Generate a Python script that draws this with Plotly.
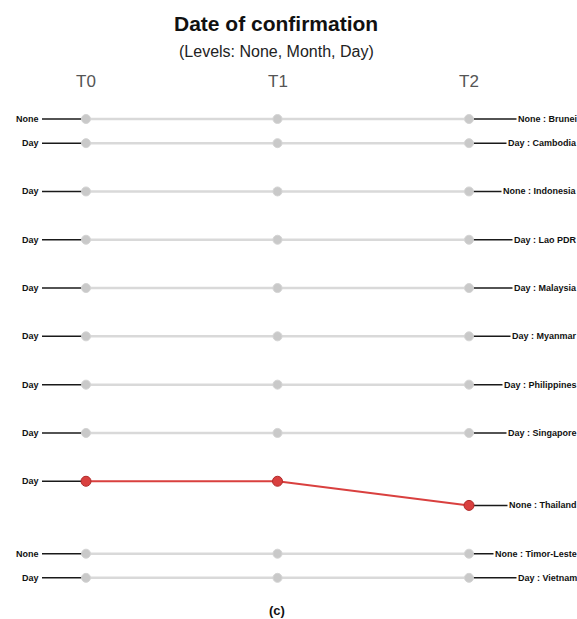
import plotly.graph_objects as go

# ---- data ----
countries = ["Brunei", "Cambodia", "Indonesia", "Lao PDR", "Malaysia", "Myanmar",
             "Philippines", "Singapore", "Thailand", "Timor-Leste", "Vietnam"]
level_t0 = ["None", "Day", "Day", "Day", "Day", "Day", "Day", "Day", "Day", "None", "Day"]
level_t2 = ["None", "Day", "None", "Day", "Day", "Day", "Day", "Day", "None", "None", "Day"]
pos_t0 = [0, 0.5, 1.5, 2.5, 3.5, 4.5, 5.5, 6.5, 7.5, 9.0, 9.5]
pos_t1 = [0, 0.5, 1.5, 2.5, 3.5, 4.5, 5.5, 6.5, 7.5, 9.0, 9.5]
pos_t2 = [0, 0.5, 1.5, 2.5, 3.5, 4.5, 5.5, 6.5, 8.0, 9.0, 9.5]
times = ["T0", "T1", "T2"]
highlight = ["Thailand"]

W, H = 577, 619
# pixel mapping
X0PX, XUNIT = 86, 191.5
Y0PX, YUNIT = 119, 48.3
def xd(px):
    return (px - X0PX) / XUNIT
def yp(px):
    return 1 - px / H

FONT = "Liberation Sans, Arial, sans-serif"
GRAY_LINE = "#d9d9d9"
GRAY_PT = "#c9c9c9"
RED = "#d9403f"

fig = go.Figure()
xs = [0, 1, 2]

# gray lines for non-highlighted
for c, a, b, d in zip(countries, pos_t0, pos_t1, pos_t2):
    if c in highlight:
        continue
    fig.add_trace(go.Scatter(x=xs, y=[a, b, d], mode="lines",
                             line=dict(color=GRAY_LINE, width=2.5),
                             hoverinfo="skip", showlegend=False))

# connectors
for c, a, d in zip(countries, pos_t0, pos_t2):
    fig.add_trace(go.Scatter(x=[xd(42), 0], y=[a, a], mode="lines",
                             line=dict(color="#1a1a1a", width=1.5),
                             hoverinfo="skip", showlegend=False))
    fig.add_trace(go.Scatter(x=[2, xd(576)], y=[d, d], mode="lines",
                             line=dict(color="#1a1a1a", width=1.5),
                             hoverinfo="skip", showlegend=False))

# gray markers
for c, a, b, d in zip(countries, pos_t0, pos_t1, pos_t2):
    if c in highlight:
        continue
    fig.add_trace(go.Scatter(x=xs, y=[a, b, d], mode="markers",
                             marker=dict(color=GRAY_PT, size=9,
                                         line=dict(color="#d4d4d4", width=1)),
                             hoverinfo="skip", showlegend=False))

# highlighted
for c, a, b, d in zip(countries, pos_t0, pos_t1, pos_t2):
    if c not in highlight:
        continue
    fig.add_trace(go.Scatter(x=xs, y=[a, b, d], mode="lines+markers",
                             line=dict(color=RED, width=2),
                             marker=dict(color=RED, size=10,
                                         line=dict(color="#b02a2a", width=1)),
                             hoverinfo="skip", showlegend=False))

annotations = []
for lv, a in zip(level_t0, pos_t0):
    annotations.append(dict(x=xd(40), y=a, xref="x", yref="y", text=lv,
                            showarrow=False, xanchor="right", yanchor="middle",
                            font=dict(family=FONT, size=9, color="#111"),
                            borderpad=0))
for c, lv, d in zip(countries, level_t2, pos_t2):
    annotations.append(dict(x=xd(575), y=d, xref="x", yref="y", xshift=4,
                            text=f"<b>{lv} : {c}</b>", showarrow=False,
                            xanchor="right", yanchor="middle",
                            bgcolor="white", borderpad=1,
                            font=dict(family=FONT, size=9, color="#111")))
for i, t in enumerate(times):
    annotations.append(dict(x=i, y=yp(81), xref="x", yref="paper", text=t,
                            showarrow=False, xanchor="center", yanchor="middle",
                            font=dict(family=FONT, size=17, color="#555")))
annotations.append(dict(x=xd(276), y=yp(23), xref="x", yref="paper",
                        text="<b>Date of confirmation</b>", showarrow=False,
                        xanchor="center", yanchor="middle",
                        font=dict(family=FONT, size=21, color="#111")))
annotations.append(dict(x=xd(276), y=yp(51), xref="x", yref="paper",
                        text="(Levels: None, Month, Day)", showarrow=False,
                        xanchor="center", yanchor="middle",
                        font=dict(family=FONT, size=16, color="#222")))
annotations.append(dict(x=xd(277), y=yp(610), xref="x", yref="paper",
                        text="<b>(c)</b>", showarrow=False,
                        xanchor="center", yanchor="middle",
                        font=dict(family=FONT, size=13, color="#111")))
# bold left labels
for ann in annotations[:len(level_t0)]:
    ann["text"] = f"<b>{ann['text']}</b>"

fig.update_layout(
    width=W, height=H,
    margin=dict(l=0, r=0, t=0, b=0),
    paper_bgcolor="white", plot_bgcolor="white",
    xaxis=dict(range=[xd(0), xd(W)], visible=False, fixedrange=True),
    yaxis=dict(range=[(H - Y0PX) / YUNIT, -Y0PX / YUNIT], visible=False, fixedrange=True),
    annotations=annotations,
    showlegend=False,
)

fig.write_html("out.html", config={"displayModeBar": False},
               post_script="document.body.style.margin='0';document.body.style.overflow='hidden';")
